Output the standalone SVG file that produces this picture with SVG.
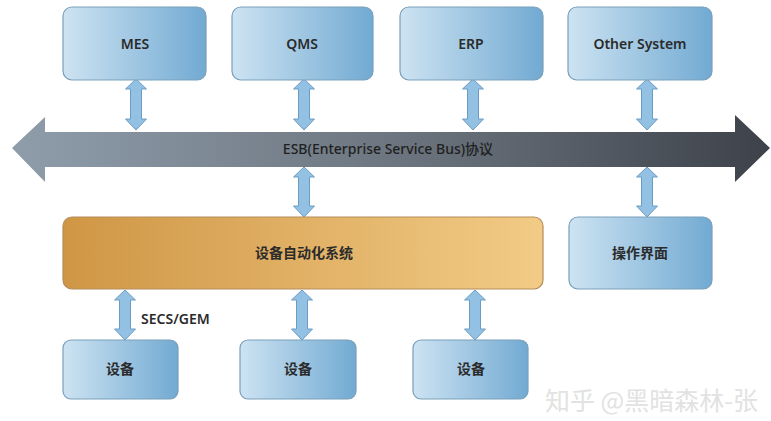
<svg xmlns="http://www.w3.org/2000/svg" width="771" height="421" viewBox="0 0 771 421">
<defs>
<linearGradient id="gBlue" x1="0" y1="0" x2="1" y2="0">
<stop offset="0" stop-color="#cde3f2"/>
<stop offset="1" stop-color="#72aad2"/>
</linearGradient>
<linearGradient id="gOrange" x1="0" y1="0" x2="1" y2="0">
<stop offset="0" stop-color="#cf9645"/>
<stop offset="1" stop-color="#f2cb86"/>
</linearGradient>
<linearGradient id="gBus" x1="0" y1="0" x2="1" y2="0">
<stop offset="0" stop-color="#8f9dab"/>
<stop offset="0.5" stop-color="#6d7680"/>
<stop offset="1" stop-color="#3d424a"/>
</linearGradient>
</defs>
<style>
.box{fill:url(#gBlue);stroke:#7a9fba;stroke-width:1.2}
.lbl{font-family:"Noto Sans","Noto Sans CJK SC",sans-serif;font-size:14px;font-weight:600;fill:#2b2b2b;text-anchor:middle;dominant-baseline:middle}
.va{fill:#92c1e3;stroke:#6d9cc2;stroke-width:1}
</style>
<rect width="771" height="421" fill="#ffffff"/>

<g id="connectors">
<path id="esb" d="M12,148 L45,117 L45,132 L735,132 L735,115 L770,148 L735,182 L735,167 L45,167 L45,182 Z" fill="url(#gBus)"/>
<text x="388" y="150" class="lbl" style="font-weight:500;fill:#1f1f1f">ESB(Enterprise Service Bus)协议</text>
<path class="va" d="M136,79 L146.5,89 L141.5,89 L141.5,119 L146.5,119 L136,130 L125.5,119 L130.5,119 L130.5,89 L125.5,89 Z"/>
<path class="va" d="M304,79 L314.5,89 L309.5,89 L309.5,119 L314.5,119 L304,130 L293.5,119 L298.5,119 L298.5,89 L293.5,89 Z"/>
<path class="va" d="M473,79 L483.5,89 L478.5,89 L478.5,119 L483.5,119 L473,130 L462.5,119 L467.5,119 L467.5,89 L462.5,89 Z"/>
<path class="va" d="M647,79 L657.5,89 L652.5,89 L652.5,119 L657.5,119 L647,130 L636.5,119 L641.5,119 L641.5,89 L636.5,89 Z"/>
<path class="va" d="M304,167 L314.5,177 L309.5,177 L309.5,206 L314.5,206 L304,217 L293.5,206 L298.5,206 L298.5,177 L293.5,177 Z"/>
<path class="va" d="M647,167 L657.5,177 L652.5,177 L652.5,206 L657.5,206 L647,217 L636.5,206 L641.5,206 L641.5,177 L636.5,177 Z"/>
<path class="va" d="M125,290 L135.5,300 L130.5,300 L130.5,329 L135.5,329 L125,340 L114.5,329 L119.5,329 L119.5,300 L114.5,300 Z"/>
<path class="va" d="M302,290 L312.5,300 L307.5,300 L307.5,329 L312.5,329 L302,340 L291.5,329 L296.5,329 L296.5,300 L291.5,300 Z"/>
<path class="va" d="M475,290 L485.5,300 L480.5,300 L480.5,329 L485.5,329 L475,340 L464.5,329 L469.5,329 L469.5,300 L464.5,300 Z"/>
<text x="141" y="320" class="lbl" style="text-anchor:start">SECS/GEM</text>
</g>

<g id="mes"><rect class="box" x="63" y="7" width="143" height="73" rx="9"/><text x="135" y="45" class="lbl">MES</text></g>
<g id="qms"><rect class="box" x="232" y="7" width="141" height="73" rx="9"/><text x="302" y="45" class="lbl">QMS</text></g>
<g id="erp"><rect class="box" x="400" y="7" width="143" height="73" rx="9"/><text x="471" y="45" class="lbl">ERP</text></g>
<g id="other"><rect class="box" x="568" y="7" width="144" height="73" rx="9"/><text x="640" y="45" class="lbl">Other System</text></g>

<g id="eas"><rect x="63" y="217" width="480" height="72" rx="9" fill="url(#gOrange)" stroke="#b58d5c" stroke-width="1.2"/><text x="304" y="254" class="lbl">设备自动化系统</text></g>
<g id="ui"><rect class="box" x="569" y="217" width="143" height="72" rx="9"/><text x="640" y="254" class="lbl">操作界面</text></g>

<g id="dev1"><rect class="box" x="63" y="340" width="115" height="59" rx="8"/><text x="120" y="370" class="lbl">设备</text></g>
<g id="dev2"><rect class="box" x="240" y="340" width="116" height="59" rx="8"/><text x="298" y="370" class="lbl">设备</text></g>
<g id="dev3"><rect class="box" x="413" y="340" width="115" height="59" rx="8"/><text x="471" y="370" class="lbl">设备</text></g>

<text x="545" y="410" font-family="Noto Sans CJK SC, sans-serif" font-size="25" fill="#e2e2e2">知乎 @黑暗森林-张</text>
</svg>
